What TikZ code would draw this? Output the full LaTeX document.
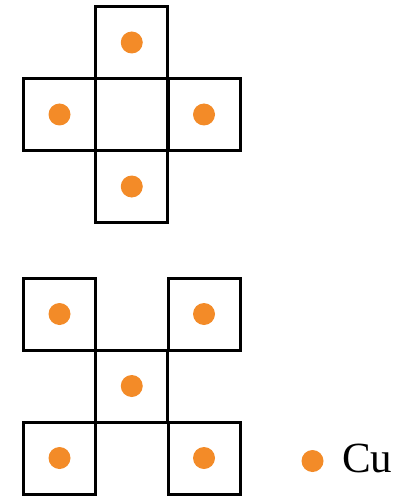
\documentclass[tikz,border=0pt]{standalone}
\usepackage{fontspec}
\setmainfont{Liberation Serif}
\definecolor{cuorange}{RGB}{243,139,40}
\begin{document}
\begin{tikzpicture}[x=1pt,y=-1pt,
  cell/.style={draw=black,line width=3pt,minimum size=72pt,inner sep=0pt,outer sep=0pt,shape=rectangle},
  atom/.style={circle,fill=cuorange,draw=none,minimum size=22pt,inner sep=0pt}]
\useasboundingbox (0,0) rectangle (413,497);
% cross-shaped arrangement
\node[cell] (c) at (131.75,114.5) {};
\node[cell] (t) at (131.75,42.5) {};
\node[cell] (l) at (59.5,114.5) {};
\node[cell] (r) at (204,114.5) {};
\node[cell] (b) at (131.75,186.5) {};
\node[atom] (at) at (t.center) {};
\node[atom] (al) at (l.center) {};
\node[atom] (ar) at (r.center) {};
\node[atom] (ab) at (b.center) {};
% X-shaped arrangement
\node[cell] (tl) at (59.5,314) {};
\node[cell] (tr) at (204,314) {};
\node[cell] (m) at (131.75,386) {};
\node[cell] (bl) at (59.5,458) {};
\node[cell] (br) at (204,458) {};
\node[atom] (atl) at (tl.center) {};
\node[atom] (atr) at (tr.center) {};
\node[atom] (am) at (m.center) {};
\node[atom] (abl) at (bl.center) {};
\node[atom] (abr) at (br.center) {};
% legend
\node[atom] (key) at (312.5,461) {};
\node[anchor=base west,inner sep=0pt,font=\fontsize{43}{43}\selectfont] (keytext) at (342,472) {Cu};
\end{tikzpicture}
\end{document}
